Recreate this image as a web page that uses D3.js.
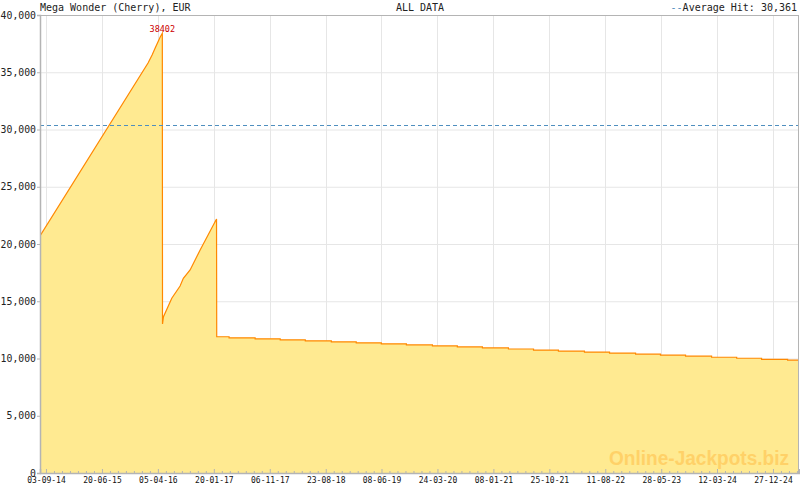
<!DOCTYPE html>
<html>
<head>
<meta charset="utf-8">
<script src="https://cdn.jsdelivr.net/npm/d3@7"></script>
<style>
  body { margin: 0; background: #fff; }
  text { font-family: "DejaVu Sans Mono", monospace; }
</style>
</head>
<body>
<div id="plot"></div>
<script>

// data

  var title = "Mega Wonder (Cherry), EUR";
  var subtitle = "ALL DATA";
  var averageHit = 30361;
  var peakLabel = "38402";

  // rising parts, drawn straight from point to point
  var riseDates = ["2014-08-03", "2016-02-14", "2016-03-06", "2016-03-22", "2016-04-17", "2016-04-28",
                   "2016-04-29", "2016-05-04", "2016-06-16", "2016-07-29", "2016-08-15", "2016-09-19",
                   "2016-11-10", "2017-02-03"];
  var riseValues = [20700, 35810, 36500, 37120, 38080, 38402,
                    13010, 13650, 15260, 16330, 17000, 17730,
                    19480, 22180];

  // slow decline after the second hit, one step per date
  var stepStart = "2017-02-04";
  var stepDates = ["2017-04-09", "2017-08-22", "2017-12-30", "2018-05-09", "2018-09-21", "2019-01-28",
                   "2019-06-07", "2019-10-15", "2020-02-27", "2020-07-05", "2020-11-12", "2021-03-27",
                   "2021-08-04", "2021-12-11", "2022-04-25", "2022-09-02", "2023-01-15", "2023-05-24",
                   "2023-10-01", "2024-02-13", "2024-06-22", "2024-10-29", "2025-03-13"];
  var stepValues = [11900, 11810, 11720, 11630, 11540, 11460, 11370, 11280, 11190, 11100, 11010, 10920,
                    10830, 10740, 10650, 10560, 10470, 10380, 10290, 10200, 10110, 10020, 9930, 9850];
  var endDate = "2025-05-11";

  var xTickLabels = ["03-09-14", "20-06-15", "05-04-16", "20-01-17", "06-11-17", "23-08-18", "08-06-19",
                     "24-03-20", "08-01-21", "25-10-21", "11-08-22", "28-05-23", "12-03-24", "27-12-24"];
  var yTicks = [0, 5000, 10000, 15000, 20000, 25000, 30000, 35000, 40000];

// build the series

  var parseDay = d3.timeParse("%Y-%m-%d");
  var parseTick = d3.timeParse("%d-%m-%y");

  var series = riseDates.map((d, i) => ({date: parseDay(d), value: riseValues[i]}));
  series.push({date: parseDay(stepStart), value: stepValues[0]});
  stepDates.forEach((d, i) => {
    series.push({date: parseDay(d), value: stepValues[i]});
    series.push({date: parseDay(d), value: stepValues[i + 1]});
  });
  series.push({date: parseDay(endDate), value: stepValues[stepValues.length - 1]});

  var majorTicks = xTickLabels.map(parseTick);

// size and scales

  var w = 800;
  var h = 490;
  var margin = {top: 15, right: 1, bottom: 17, left: 40};
  var innerWidth = w - margin.left - margin.right;
  var innerHeight = h - margin.top - margin.bottom;

  var xScale = d3.scaleTime()
      .domain([parseDay(riseDates[0]), parseDay(endDate)])
      .range([0, innerWidth]);

  var yScale = d3.scaleLinear()
      .domain([0, 40000])
      .range([innerHeight, 0]);

  // minor ticks: six between each pair of labelled ticks
  var minorTicks = [];
  for (var k = 0; k < majorTicks.length; k++) {
    for (var j = 1; j < 7; j++) {
      var t = d3.timeHour.offset(majorTicks[k], Math.round(j * 290 * 24 / 7));
      if (t < xScale.domain()[1]) minorTicks.push(t);
    }
  }

  var svg = d3.select("div#plot")
    .append("svg")
      .attr("width", w)
      .attr("height", h);

  var plot = svg.append("g")
      .attr("transform", `translate(${margin.left}, ${margin.top})`);

  svg.append("defs").append("clipPath")
      .attr("id", "clip")
    .append("rect")
      .attr("width", innerWidth)
      .attr("height", innerHeight);

// grid

  plot.append("g")
    .selectAll("line")
    .data(yTicks.slice(1, -1))
    .enter().append("line")
      .attr("x1", 0)
      .attr("x2", innerWidth)
      .attr("y1", d => yScale(d) + 0.5)
      .attr("y2", d => yScale(d) + 0.5)
      .attr("stroke", "#e6e6e6");

  plot.append("g")
    .selectAll("line")
    .data(majorTicks)
    .enter().append("line")
      .attr("x1", d => Math.round(xScale(d)) + 0.5)
      .attr("x2", d => Math.round(xScale(d)) + 0.5)
      .attr("y1", 0)
      .attr("y2", innerHeight)
      .attr("stroke", "#e6e6e6");

// area and line

  var area = d3.area()
      .x(d => xScale(d.date))
      .y0(innerHeight)
      .y1(d => yScale(d.value));

  var line = d3.line()
      .x(d => xScale(d.date))
      .y(d => yScale(d.value));

  var marks = plot.append("g").attr("clip-path", "url(#clip)");

  marks.append("path")
      .datum(series)
      .attr("d", area)
      .attr("fill", "#ffea91");

  marks.append("path")
      .datum(series)
      .attr("d", line)
      .attr("fill", "none")
      .attr("stroke", "#ff8800")
      .attr("stroke-width", 1.2);

  // watermark
  plot.append("text")
      .attr("x", 569)
      .attr("y", 450)
      .attr("textLength", 180)
      .attr("lengthAdjust", "spacingAndGlyphs")
      .style("font-family", "'Liberation Sans', Arial, sans-serif")
      .style("font-weight", "bold")
      .style("font-size", "20px")
      .attr("fill", "#ffc24d")
      .attr("opacity", 0.6)
      .text("Online-Jackpots.biz");

  // average hit
  plot.append("line")
      .attr("x1", 0)
      .attr("x2", innerWidth)
      .attr("y1", Math.round(yScale(averageHit)) + 0.5)
      .attr("y2", Math.round(yScale(averageHit)) + 0.5)
      .attr("stroke", "#4f8fbf")
      .attr("stroke-dasharray", "4,3");

  // peak label
  var peak = series[d3.maxIndex(series, d => d.value)];
  plot.append("text")
      .attr("x", xScale(peak.date))
      .attr("y", yScale(peak.value) - 1)
      .attr("text-anchor", "middle")
      .style("font-size", "8.5px")
      .attr("fill", "#cc0000")
      .text(peakLabel);

// frame and axes

  plot.append("rect")
      .attr("x", 0.5)
      .attr("y", 0.5)
      .attr("width", innerWidth - 1)
      .attr("height", innerHeight)
      .attr("fill", "none")
      .attr("stroke", "#b4b4b4");

  var yAxis = d3.axisLeft(yScale)
      .tickValues(yTicks)
      .tickFormat(d3.format(","))
      .tickSize(3)
      .tickPadding(1);

  plot.append("g")
      .attr("class", "yAxis")
      .call(yAxis)
      .call(g => g.select(".domain").attr("stroke", "#b4b4b4").attr("stroke-width", 1.5))
      .call(g => g.selectAll(".tick line").attr("stroke", "#b4b4b4"))
      .call(g => g.selectAll("text").style("font-size", "9.8px").attr("fill", "#222")
                   .style("font-family", "'DejaVu Sans Mono', monospace"));

  var xAxis = d3.axisBottom(xScale)
      .tickValues(majorTicks)
      .tickFormat((d, i) => xTickLabels[i])
      .tickSize(-4)
      .tickPadding(4);

  var xMinor = d3.axisBottom(xScale)
      .tickValues(minorTicks)
      .tickFormat("")
      .tickSize(-2);

  plot.append("g")
      .attr("transform", `translate(0, ${innerHeight})`)
      .call(xMinor)
      .call(g => g.select(".domain").remove())
      .call(g => g.selectAll(".tick line").attr("stroke", "#b4b4b4"));

  plot.append("g")
      .attr("class", "xAxis")
      .attr("transform", `translate(0, ${innerHeight})`)
      .call(xAxis)
      .call(g => g.select(".domain").attr("stroke", "#b4b4b4").attr("stroke-width", 1.5))
      .call(g => g.selectAll(".tick line").attr("stroke", "#b4b4b4"))
      .call(g => g.selectAll("text").style("font-size", "8px").attr("fill", "#111")
                   .style("font-family", "'DejaVu Sans Mono', monospace"));

// titles

  svg.append("text")
      .attr("x", margin.left)
      .attr("y", 11)
      .style("font-size", "10px")
      .attr("fill", "#222")
      .text(title);

  svg.append("text")
      .attr("x", 420)
      .attr("y", 11)
      .attr("text-anchor", "middle")
      .style("font-size", "10px")
      .attr("fill", "#222")
      .text(subtitle);

  var legend = svg.append("text")
      .attr("x", 797)
      .attr("y", 11)
      .attr("text-anchor", "end")
      .style("font-size", "10px")
      .attr("fill", "#222");

  legend.append("tspan")
      .attr("fill", "#4f8fbf")
      .text("--");

  legend.append("tspan")
      .text("Average Hit: " + d3.format(",")(averageHit));

</script>
</body>
</html>
